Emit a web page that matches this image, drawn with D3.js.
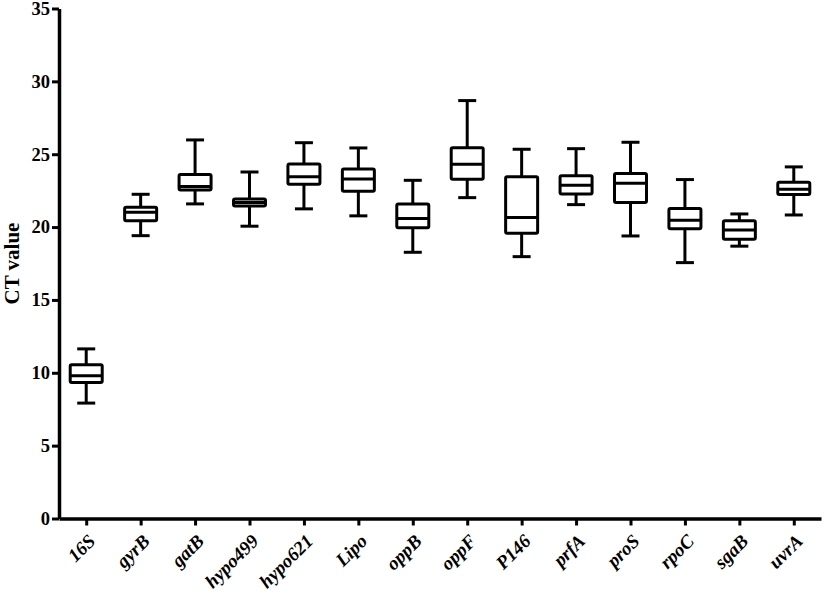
<!DOCTYPE html>
<html>
<head>
<meta charset="utf-8">
<script src="https://cdn.jsdelivr.net/npm/d3@7"></script>
<style>
  html, body { margin: 0; padding: 0; background: #fff; }
  svg { display: block; }
</style>
</head>
<body>
<svg id="chart" width="829" height="593"></svg>
<script>
// ---- data ----
const categories = ["16S","gyrB","gatB","hypo499","hypo621","Lipo","oppB","oppF","P146","prfA","proS","rpoC","sgaB","uvrA"];
const whiskerMin = [7.92, 19.41, 21.59, 20.06, 21.25, 20.77, 18.27, 22.02, 17.97, 21.54, 19.39, 17.56, 18.69, 20.83];
const q1         = [9.33, 20.44, 22.55, 21.45, 22.94, 22.46, 19.96, 23.28, 19.58, 22.27, 21.68, 19.89, 19.17, 22.23];
const median     = [9.79, 21.02, 22.78, 21.68, 23.46, 23.30, 20.58, 24.31, 20.65, 22.87, 23.01, 20.47, 19.80, 22.60];
const q3         = [10.56, 21.36, 23.60, 21.93, 24.33, 23.99, 21.59, 25.45, 23.46, 23.53, 23.67, 21.27, 20.44, 23.08];
const whiskerMax = [11.64, 22.25, 25.98, 23.78, 25.79, 25.43, 23.21, 28.68, 25.34, 25.38, 25.82, 23.26, 20.90, 24.13];
const yTicks = [0, 5, 10, 15, 20, 25, 30, 35];
const yLabel = "CT value";

// ---- layout ----
const svg = d3.select("#chart");
const font = "'Liberation Serif', 'Times New Roman', serif";
const x = d3.scalePoint().domain(categories).range([59, 821]).padding(0.5);
const y = d3.scaleLinear().domain([0, 35]).range([518.5, 8.5]);
const boxW = 32, capW = 18, sw = 3;

const rows = categories.map((c, i) => ({
  c, lo: whiskerMin[i], q1: q1[i], med: median[i], q3: q3[i], hi: whiskerMax[i]
}));

const g = svg.append("g");
const box = g.selectAll("g.box").data(rows).join("g").attr("class", "box");

box.append("line")
  .attr("x1", d => x(d.c)).attr("x2", d => x(d.c))
  .attr("y1", d => y(d.hi)).attr("y2", d => y(d.lo))
  .attr("stroke", "#000").attr("stroke-width", sw);
box.append("line")
  .attr("x1", d => x(d.c) - capW / 2).attr("x2", d => x(d.c) + capW / 2)
  .attr("y1", d => y(d.hi)).attr("y2", d => y(d.hi))
  .attr("stroke", "#000").attr("stroke-width", sw);
box.append("line")
  .attr("x1", d => x(d.c) - capW / 2).attr("x2", d => x(d.c) + capW / 2)
  .attr("y1", d => y(d.lo)).attr("y2", d => y(d.lo))
  .attr("stroke", "#000").attr("stroke-width", sw);
box.append("rect")
  .attr("x", d => x(d.c) - boxW / 2).attr("width", boxW)
  .attr("y", d => y(d.q3)).attr("height", d => y(d.q1) - y(d.q3))
  .attr("rx", 1.5)
  .attr("fill", "#fff").attr("stroke", "#000").attr("stroke-width", sw)
  .attr("stroke-linejoin", "round");
box.append("line")
  .attr("x1", d => x(d.c) - boxW / 2).attr("x2", d => x(d.c) + boxW / 2)
  .attr("y1", d => y(d.med)).attr("y2", d => y(d.med))
  .attr("stroke", "#000").attr("stroke-width", sw);

// ---- axes ----
const yAxis = svg.append("g").attr("transform", "translate(59,0)")
  .call(d3.axisLeft(y).tickValues(yTicks).tickSize(7).tickSizeOuter(0).tickPadding(2));
const xAxis = svg.append("g").attr("transform", `translate(0,${y(0)})`)
  .call(d3.axisBottom(x).tickSize(7).tickSizeOuter(0));

[yAxis, xAxis].forEach(a => {
  a.select(".domain").attr("stroke", "#000").attr("stroke-width", 3.5);
  a.selectAll(".tick line").attr("stroke", "#000").attr("stroke-width", 3);
  a.selectAll("text").attr("fill", "#000")
    .style("font-family", font).style("font-weight", "bold");
});
yAxis.selectAll(".tick text").style("font-size", "18.5px");

xAxis.selectAll(".tick text")
  .style("font-style", "italic").style("font-size", "19px")
  .attr("text-anchor", "end")
  .attr("x", 0).attr("y", 0).attr("dy", "0.35em")
  .attr("transform", "translate(5,19) rotate(-45)");

svg.append("text")
  .attr("transform", `translate(19,${(y(0) + y(35)) / 2}) rotate(-90)`)
  .attr("text-anchor", "middle")
  .style("font-family", font).style("font-weight", "bold").style("font-size", "21px")
  .text(yLabel);
</script>
</body>
</html>
